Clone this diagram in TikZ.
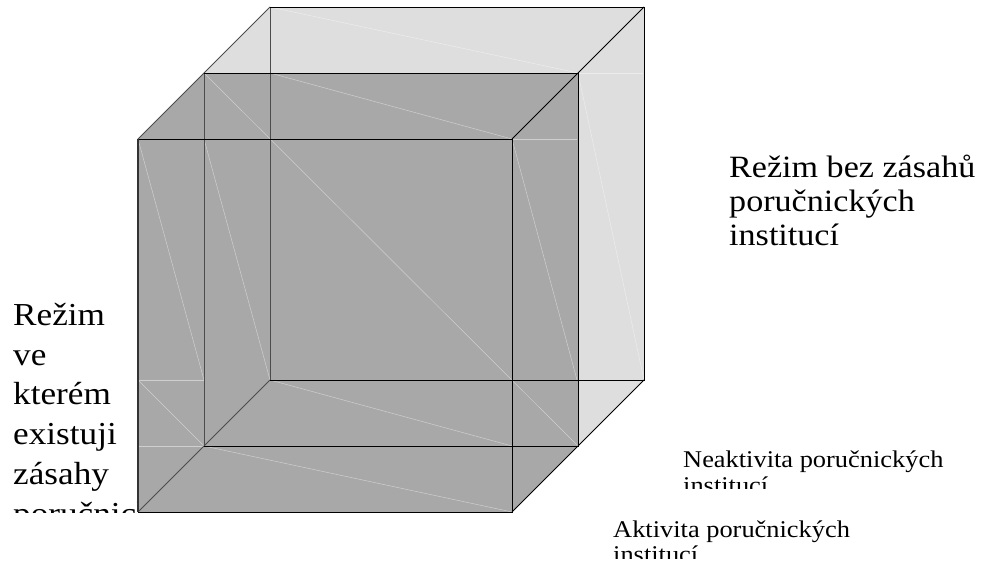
\documentclass[tikz,border=0pt]{standalone}
\usepackage{fontspec}
\setmainfont{Liberation Serif}
\newfontfamily\wideserif[FakeStretch=1.1]{Liberation Serif}

\begin{document}
\begin{tikzpicture}[x=1pt,y=-1pt,
    darkface/.style={fill=black!34},
    lightface/.style={fill=black!13},
    seam/.style={white,opacity=0.45,line width=0.5pt},
    edge/.style={black,line width=0.8pt},
    greyedge/.style={black!70,line width=0.9pt},
    label/.style={inner sep=0pt,anchor=base west,align=left}]
  \useasboundingbox (0,0) rectangle (989,562);
  % corners of the three squares: front, middle, back
  \foreach \n/\k in {f/0,m/66,b/132} {
    \coordinate (\n TL) at (138+\k,139-\k);
    \coordinate (\n TR) at (512+\k,139-\k);
    \coordinate (\n BR) at (512+\k,512-\k);
    \coordinate (\n BL) at (138+\k,512-\k);
  }
  % faces
  \fill[lightface] (mTL) -- (bTL) -- (bTR) -- (bBR) -- (mBR) -- (mBL) -- cycle;
  \fill[darkface] (fTL) -- (mTL) -- (mTR) -- (mBR) -- (fBR) -- (fBL) -- cycle;
  % seams of the shading
  \draw[seam] (bTL) -- (mTR);
  \draw[seam] (270,73) -- (fTR);
  \draw[seam] (mTL) -- (mBR);
  \draw[seam] (fTL) -- (204,380);
  \draw[seam] (204,139) -- (bBL);
  \draw[seam] (fTR) -- (577,380);
  \draw[seam] (mTR) -- (bBR);
  \draw[seam] (mTR) -- (643,73);
  \draw[seam] (fTR) -- (577,139);
  \draw[seam] (138,380) -- (204,380);
  \draw[seam] (138,446) -- (mBL);
  \draw[seam] (138,380) -- (mBL);
  \draw[seam] (bBL) -- (512,446);
  \draw[seam] (mBL) -- (fBR);
  % edges
  \draw[greyedge] (bTL) -- (bBL);
  \draw[greyedge] (mTL) -- (mBL);
  \draw[greyedge] (fTL) -- (mTL) -- (bTL);
  \draw[greyedge] (fBL) -- (mBL) -- (bBL);
  \draw[edge] (bTL) -- (bTR) -- (bBR) -- (bBL);
  \draw[edge] (mTL) -- (mTR) -- (mBR) -- (mBL);
  \draw[edge] (fTL) -- (fTR) -- (fBR) -- (fBL);
  \draw[black!80,line width=1.6pt] (fTL) -- (fBL);
  \draw[edge] (fTR) -- (mTR) -- (bTR);
  \draw[edge] (fBR) -- (mBR) -- (bBR);
  % labels (placed at the baseline of their last line)
  \node[label,font=\wideserif\fontsize{31}{34}\selectfont] (freelabel) at (729,245)
    {Režim bez zásahů\\poručnických\\institucí};
  \begin{scope}
    \clip (0,280) rectangle (136,512);
    \node[label,font=\wideserif\fontsize{32}{39.7}\selectfont] (interlabel) at (13,524)
      {Režim\\ve\\kterém\\existuji\\zásahy\\poručnických};
  \end{scope}
  \begin{scope}
    \clip (600,440) rectangle (989,488.5);
    \node[label,font=\wideserif\fontsize{24}{26}\selectfont] (inactlabel) at (683,493.5)
      {Neaktivita poručnických\\institucí};
  \end{scope}
  \begin{scope}
    \clip (600,505) rectangle (989,558);
    \node[label,font=\wideserif\fontsize{24}{25}\selectfont] (actlabel) at (613,562.5)
      {Aktivita poručnických\\institucí};
  \end{scope}
\end{tikzpicture}
\end{document}
